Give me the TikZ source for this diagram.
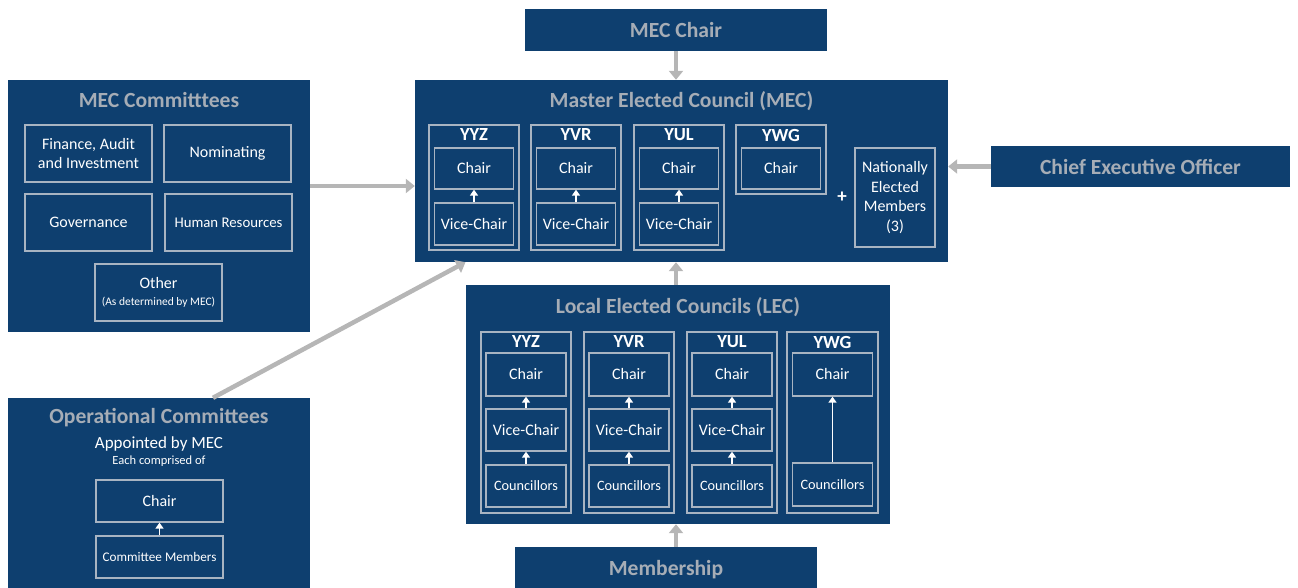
\documentclass[tikz,border=0pt]{standalone}
\usepackage{fontspec}
\setmainfont{Carlito}
\usetikzlibrary{arrows.meta}
\definecolor{navy}{RGB}{14,63,111}
\definecolor{ttl}{RGB}{166,173,182}
\definecolor{edgec}{RGB}{168,180,194}
\definecolor{arr}{RGB}{182,182,182}
\tikzset{
  panel/.style={fill=navy, draw=none, inner sep=0pt},
  ttlfont/.style={text=ttl, font=\fontsize{21.6}{25}\selectfont\bfseries},
  sub/.style={draw=edgec, line width=1.3pt, inner sep=0pt, text=white, align=center,
              font=\fontsize{16}{19.5}\selectfont},
  grp/.style={draw=edgec, line width=1.3pt, inner sep=0pt},
  lbl/.style={text=white, font=\fontsize{18.5}{20}\selectfont\bfseries},
  big/.style={draw=arr, line width=4.5pt, -{Triangle[length=9pt,width=14pt]}},
  small/.style={draw=white, line width=1.5pt, -{Triangle[length=6pt,width=8pt]}},
}
\begin{document}
\begin{tikzpicture}[x=1pt,y=-1pt]
\useasboundingbox (0,0) rectangle (1298,588);
% ---------- main panels ----------
\node[panel, ttlfont, minimum width=302pt, minimum height=42pt] (mecchair) at (676,30) {MEC Chair};
\node[panel, minimum width=533pt, minimum height=182pt] (mec) at (681.5,171) {};
\node[ttlfont] (mect) at (681.5,101) {Master Elected Council (MEC)};
\node[panel, ttlfont, minimum width=299pt, minimum height=41pt] (ceo) at (1140.5,166.5) {Chief Executive Officer};
\node[panel, minimum width=302pt, minimum height=252pt] (mecc) at (159,206) {};
\node[ttlfont] (mecct) at (159,100) {MEC Committtees};
\node[panel, minimum width=302pt, minimum height=194pt] (opc) at (159,495) {};
\node[ttlfont] (opct) at (159,418) {Operational Committees};
\node[text=white, font=\fontsize{17}{19}\selectfont] (opa) at (159,444) {Appointed by MEC};
\node[text=white, font=\fontsize{12.5}{14}\selectfont] (opb) at (159,461) {Each comprised of};
\node[panel, minimum width=424pt, minimum height=239pt] (lec) at (678,404.5) {};
\node[ttlfont] (lect) at (678,307) {Local Elected Councils (LEC)};
\node[panel, ttlfont, minimum width=302pt, minimum height=45pt] (memb) at (666,569.5) {Membership};
% ---------- MEC committees ----------
\node[sub, minimum width=127pt, minimum height=57pt] (fin) at (88.5,153.5) {Finance, Audit\\and Investment};
\node[sub, minimum width=127pt, minimum height=57pt] (nom) at (227.5,153.5) {Nominating};
\node[sub, minimum width=127pt, minimum height=57pt] (gov) at (88.5,222.5) {Governance};
\node[sub, minimum width=127pt, minimum height=57pt, font=\fontsize{14.8}{18}\selectfont] (hr) at (228.5,222.5) {Human Resources};
\node[sub, minimum width=127pt, minimum height=57pt] (oth) at (158.5,292.5) {Other\\[-3pt]{\fontsize{11.5}{13}\selectfont(As determined by MEC)}};
% ---------- Operational committees ----------
\node[sub, minimum width=127pt, minimum height=42pt] (opchair) at (159.5,501) {Chair};
\node[sub, minimum width=127pt, minimum height=42pt, font=\fontsize{13.2}{16}\selectfont] (opmem) at (159.5,557) {Committee Members};
\draw[small] (opmem.north) -- (opchair.south);
% ---------- MEC columns ----------
\foreach \n/\t/\x in {yyz/YYZ/474, yvr/YVR/576, yul/YUL/679}{
  \node[grp, minimum width=90pt, minimum height=125pt] (mg\n) at (\x,187.5) {};
  \node[lbl] (ml\n) at (\x,135) {\t};
  \node[sub, minimum width=79pt, minimum height=41pt] (mc\n) at (\x,168.5) {Chair};
  \node[sub, minimum width=79pt, minimum height=42pt] (mv\n) at (\x,224) {Vice-Chair};
  \draw[small] (mv\n.north) -- (mc\n.south);
}
\node[grp, minimum width=90pt, minimum height=69pt] (mgywg) at (781,159.5) {};
\node[lbl] (mlywg) at (781,135) {YWG};
\node[sub, minimum width=79pt, minimum height=41pt] (mcywg) at (781,168.5) {Chair};
\node[text=white, font=\fontsize{19}{20}\selectfont\bfseries] (plus) at (842,197) {+};
\node[sub, minimum width=80pt, minimum height=99pt] (nat) at (895,197.5) {Nationally\\Elected\\Members\\(3)};
% ---------- LEC columns ----------
\foreach \n/\t/\x in {yyz/YYZ/526, yvr/YVR/629, yul/YUL/732}{
  \node[grp, minimum width=90pt, minimum height=181pt] (lg\n) at (\x,422.5) {};
  \node[lbl] (ll\n) at (\x,342) {\t};
  \node[sub, minimum width=80pt, minimum height=43pt] (lc\n) at (\x,374.5) {Chair};
  \node[sub, minimum width=80pt, minimum height=42pt] (lv\n) at (\x,430) {Vice-Chair};
  \node[sub, minimum width=80pt, minimum height=42pt, font=\fontsize{14.3}{17}\selectfont] (lo\n) at (\x,486) {Councillors};
  \draw[small] (lv\n.north) -- (lc\n.south);
  \draw[small] (lo\n.north) -- (lv\n.south);
}
\node[grp, minimum width=91pt, minimum height=181pt] (lgywg) at (832.5,422.5) {};
\node[lbl] (llywg) at (832.5,342) {YWG};
\node[sub, minimum width=80pt, minimum height=43pt] (lcywg) at (832.5,374.5) {Chair};
\node[sub, minimum width=80pt, minimum height=43pt, font=\fontsize{14.3}{17}\selectfont] (loywg) at (832.5,484.5) {Councillors};
\draw[small] (loywg.north) -- (lcywg.south);
% ---------- big arrows ----------
\draw[big] (mecchair.south) -- (mecchair.south |- mec.north);
\draw[big] (ceo.west) -- (ceo.west -| mec.east);
\draw[big] ([yshift=20pt]mecc.east) -- ([yshift=20pt]mecc.east -| mec.west);
\draw[big] ([xshift=54pt]opc.north) -- ([xshift=-216pt]mec.south);
\draw[big] ([xshift=-2pt]lec.north) -- ([xshift=-2pt]lec.north |- mec.south);
\draw[big] ([xshift=10pt]memb.north) -- ([xshift=10pt]memb.north |- lec.south);
\end{tikzpicture}
\end{document}
